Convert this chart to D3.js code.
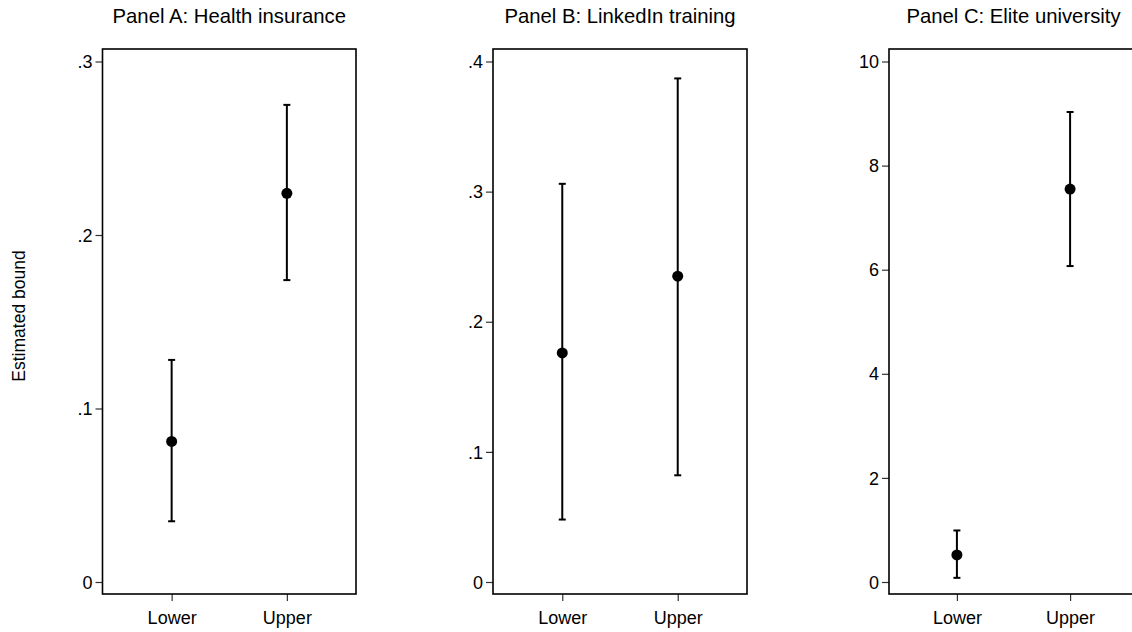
<!DOCTYPE html>
<html>
<head>
<meta charset="utf-8">
<script src="https://cdn.jsdelivr.net/npm/d3@7"></script>
<style>
  html, body { margin: 0; padding: 0; background: #fff; }
  svg { display: block; font-family: "Liberation Sans", Arial, sans-serif; }
  .frame { fill: none; stroke: #000; stroke-width: 1.6; }
  .axis path { display: none; }
  .axis line { stroke: #333; stroke-width: 1.2; }
  .axis text { fill: #000; font-size: 18px; }
  .ci { stroke: #000; stroke-width: 2; fill: none; }
  .pt { fill: #000; }
  .title { font-size: 20.3px; fill: #000; }
  .ylab { font-size: 17.5px; fill: #000; }
</style>
</head>
<body>
<div id="chart"></div>
<script>
'use strict';

// --- data ---
const panelTitles = ['Panel A: Health insurance', 'Panel B: LinkedIn training', 'Panel C: Elite university'];
const categories = ['Lower', 'Upper'];
const estimates = [[0.081, 0.224], [0.176, 0.235], [0.52, 7.55]];
const ciLow     = [[0.035, 0.174], [0.048, 0.082], [0.08, 6.07]];
const ciHigh    = [[0.128, 0.275], [0.306, 0.387], [0.99, 9.03]];
const yTicks    = [[0, 0.1, 0.2, 0.3], [0, 0.1, 0.2, 0.3, 0.4], [0, 2, 4, 6, 8, 10]];
const yMax      = [0.3, 0.4, 10];
const yLabel = 'Estimated bound';

const width = 1132;
const height = 632;

// plot regions (frame) of each panel
const frames = [
  { x: 102.5, w: 253.5 },
  { x: 493,   w: 254 },
  { x: 889,   w: 249 }
];
const frameTop = 49;
const frameBottom = 594;
const yTop = 61.5;     // position of the max tick
const yZero = 582;     // position of 0

const svg = d3.select('#chart')
  .append('svg')
  .attr('width', width)
  .attr('height', height);

function fmtTick(d) {
  if (d === 0) return '0';
  return String(d).replace(/^0\./, '.');
}

panelTitles.forEach((title, p) => {
  const f = frames[p];
  const g = svg.append('g').attr('class', 'panel');

  const x = d3.scalePoint()
    .domain(categories)
    .range([f.x, f.x + f.w])
    .padding(0.6);

  const y = d3.scaleLinear()
    .domain([0, yMax[p]])
    .range([yZero, yTop]);

  // title
  g.append('text')
    .attr('class', 'title')
    .attr('x', f.x + f.w / 2)
    .attr('y', 23)
    .attr('text-anchor', 'middle')
    .text(title);

  // y axis
  g.append('g')
    .attr('class', 'axis')
    .attr('transform', `translate(${f.x},0)`)
    .call(d3.axisLeft(y).tickValues(yTicks[p]).tickFormat(fmtTick).tickSize(7).tickPadding(3))
    .selectAll('text').attr('dy', '0.34em');

  // x axis
  g.append('g')
    .attr('class', 'axis')
    .attr('transform', `translate(0,${frameBottom})`)
    .call(d3.axisBottom(x).tickSize(7).tickPadding(10));

  // frame
  g.append('rect')
    .attr('class', 'frame')
    .attr('x', f.x)
    .attr('y', frameTop)
    .attr('width', f.w)
    .attr('height', frameBottom - frameTop);

  // error bars
  const rows = categories.map((c, i) => ({
    cat: c,
    est: estimates[p][i],
    lo: ciLow[p][i],
    hi: ciHigh[p][i]
  }));

  const bars = g.selectAll('g.bar')
    .data(rows)
    .join('g')
    .attr('class', 'bar');

  bars.append('line')
    .attr('class', 'ci')
    .attr('x1', d => x(d.cat)).attr('x2', d => x(d.cat))
    .attr('y1', d => y(d.lo)).attr('y2', d => y(d.hi));

  bars.append('line')
    .attr('class', 'ci')
    .attr('x1', d => x(d.cat) - 3.5).attr('x2', d => x(d.cat) + 3.5)
    .attr('y1', d => y(d.hi)).attr('y2', d => y(d.hi));

  bars.append('line')
    .attr('class', 'ci')
    .attr('x1', d => x(d.cat) - 3.5).attr('x2', d => x(d.cat) + 3.5)
    .attr('y1', d => y(d.lo)).attr('y2', d => y(d.lo));

  bars.append('circle')
    .attr('class', 'pt')
    .attr('cx', d => x(d.cat))
    .attr('cy', d => y(d.est))
    .attr('r', 5.5);
});

// shared y label
svg.append('text')
  .attr('class', 'ylab')
  .attr('transform', 'translate(25,316) rotate(-90)')
  .attr('text-anchor', 'middle')
  .text(yLabel);
</script>
</body>
</html>
